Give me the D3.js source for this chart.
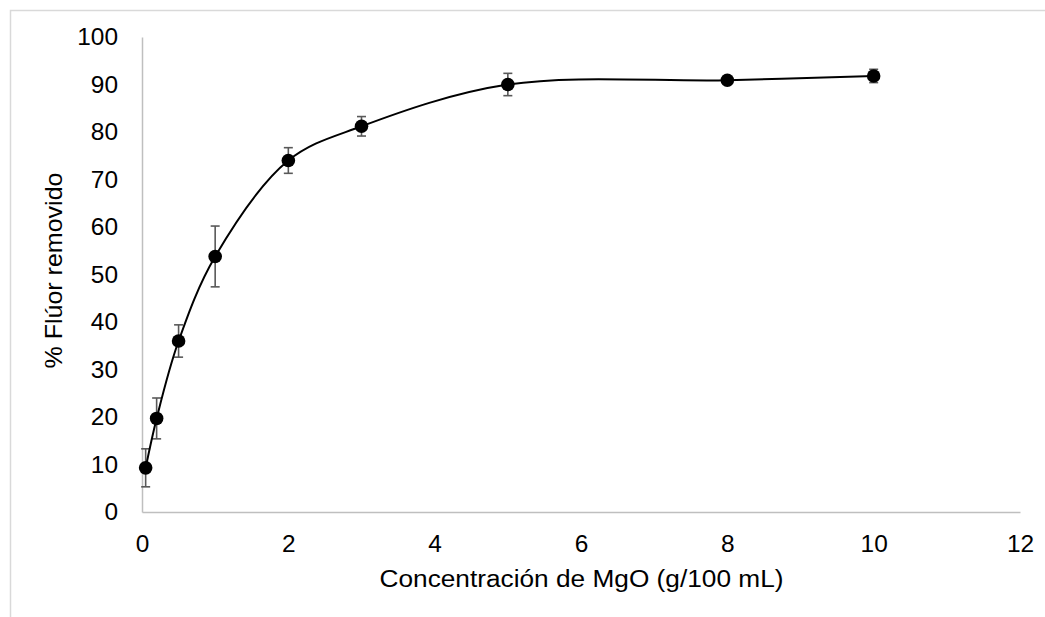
<!DOCTYPE html>
<html><head><meta charset="utf-8">
<script src="https://cdn.jsdelivr.net/npm/d3@7"></script>
<style>body{margin:0;background:#fff}svg{display:block}text{font-family:"Liberation Sans",Arial,sans-serif;fill:#000}</style>
</head><body>
<svg id="c" width="1045" height="617"></svg>
<script>
const conc = [0.05, 0.2, 0.5, 1, 2, 3, 5, 8, 10];
const removal = [9.3, 19.7, 36.0, 53.8, 74.0, 81.2, 90.0, 90.9, 91.8];
const errors = [4.0, 4.3, 3.4, 6.4, 2.7, 2.05, 2.35, 0, 1.4];
const xTicks = [0, 2, 4, 6, 8, 10, 12];
const yTicks = [0, 10, 20, 30, 40, 50, 60, 70, 80, 90, 100];
const xTitle = "Concentración de MgO (g/100 mL)";
const yTitle = "% Flúor removido";

const svg = d3.select("#c");
const L = 142, R = 1020, T = 37, B = 512;
const x = d3.scaleLinear().domain([0, 12]).range([L, R]);
const y = d3.scaleLinear().domain([0, 100]).range([B, T]);

// frame
svg.append("rect").attr("x", 10.5).attr("y", 10.5).attr("width", 1100).attr("height", 700)
  .attr("fill", "none").attr("stroke", "#d9d9d9").attr("stroke-width", 1.5);

// axes
const xa = svg.append("g").attr("transform", `translate(0,${B})`)
  .call(d3.axisBottom(x).tickValues(xTicks).tickSize(0).tickPadding(24).tickFormat(d3.format("d")));
const ya = svg.append("g").attr("transform", `translate(${L},0)`)
  .call(d3.axisLeft(y).tickValues(yTicks).tickSize(0).tickPadding(24).tickFormat(d3.format("d")));
[xa, ya].forEach(g => {
  g.select(".domain").attr("stroke", "#bfbfbf").attr("stroke-width", 1.5);
  g.selectAll("text").style("font-size", "24px").attr("fill", "#000")
    .attr("textLength", d => String(d).length * 13.6).attr("lengthAdjust", "spacingAndGlyphs");
});
xa.selectAll("text").attr("dy", "0.71em").attr("y", 23);

// titles
svg.append("text").attr("x", (L + R) / 2 + 0.5).attr("y", 587).attr("text-anchor", "middle")
  .style("font-size", "23.5px").attr("textLength", 404).attr("lengthAdjust", "spacingAndGlyphs").text(xTitle);
svg.append("text").attr("transform", `translate(62,270.5) rotate(-90)`).attr("text-anchor", "middle")
  .style("font-size", "24.5px").attr("textLength", 196).attr("lengthAdjust", "spacingAndGlyphs").text(yTitle);

const data = conc.map((c, i) => ({x: c, y: removal[i], e: errors[i]}));

// error bars
const eb = svg.append("g").attr("stroke", "#595959").attr("stroke-width", 1.6);
data.filter(d => d.e > 0).forEach(d => {
  const cx = x(d.x);
  eb.append("line").attr("x1", cx).attr("x2", cx).attr("y1", y(d.y - d.e)).attr("y2", y(d.y + d.e));
  eb.append("line").attr("x1", cx - 4.5).attr("x2", cx + 4.5).attr("y1", y(d.y + d.e)).attr("y2", y(d.y + d.e));
  eb.append("line").attr("x1", cx - 4.5).attr("x2", cx + 4.5).attr("y1", y(d.y - d.e)).attr("y2", y(d.y - d.e));
});

// line
const line = d3.line().x(d => x(d.x)).y(d => y(d.y)).curve(d3.curveCatmullRom.alpha(0.5));
svg.append("path").datum(data).attr("d", line).attr("fill", "none").attr("stroke", "#000").attr("stroke-width", 2);

// markers
svg.append("g").selectAll("circle").data(data).join("circle")
  .attr("cx", d => x(d.x)).attr("cy", d => y(d.y)).attr("r", 6.8).attr("fill", "#000");
</script>
</body></html>
